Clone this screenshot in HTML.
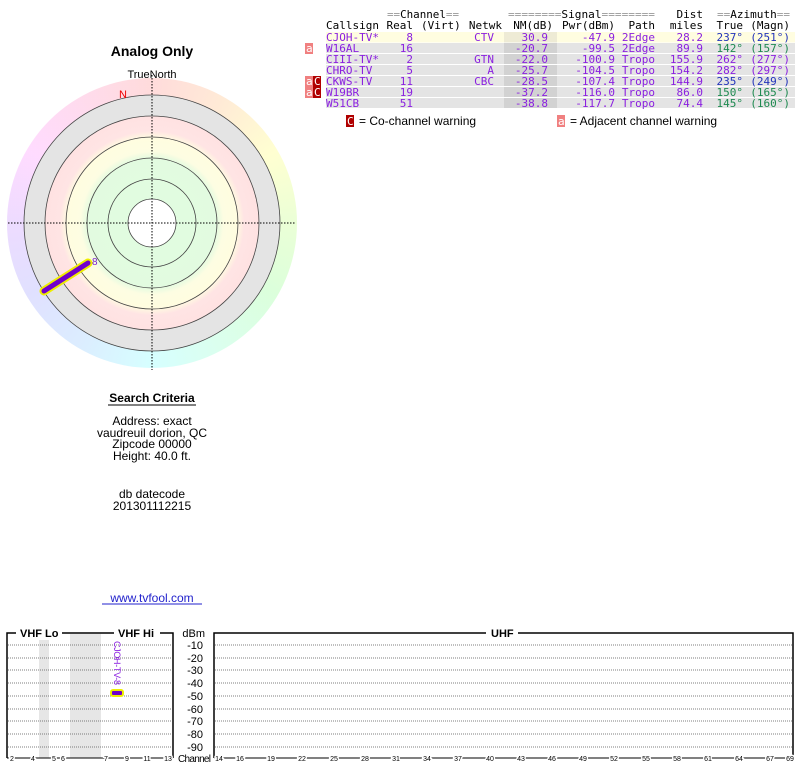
<!DOCTYPE html>
<html><head><meta charset="utf-8"><style>
body{margin:0;background:#fff;width:800px;height:768px;overflow:hidden;position:relative;font-family:"Liberation Sans",sans-serif}
#wheel{position:absolute;left:7px;top:78px;width:290px;height:290px;border-radius:50%;
background:conic-gradient(hsl(0,100%,93%),hsl(30,100%,92%),hsl(60,100%,91%),hsl(90,100%,92%),hsl(120,100%,93%),hsl(150,100%,93%),hsl(180,100%,92%),hsl(210,100%,93%),hsl(240,100%,94%),hsl(270,100%,93%),hsl(300,100%,93%),hsl(330,100%,93%),hsl(360,100%,93%))}
svg{position:absolute;left:0;top:0}
.m{font-family:"DejaVu Sans Mono","Liberation Mono",monospace;font-size:11px}
</style></head><body>
<div id="wheel"></div>
<svg width="800" height="768" xmlns="http://www.w3.org/2000/svg">
<defs><radialGradient id="rg" cx="152" cy="223" r="128" gradientUnits="userSpaceOnUse">
<stop offset="0" stop-color="#e0fde0"/><stop offset="0.5" stop-color="#e2fbe0"/>
<stop offset="0.56" stop-color="#fdfde2"/><stop offset="0.66" stop-color="#fffde0"/>
<stop offset="0.72" stop-color="#ffe4e4"/><stop offset="0.835" stop-color="#ffe2e2"/>
<stop offset="0.836" stop-color="#e4e4e4"/><stop offset="1" stop-color="#e4e4e4"/></radialGradient></defs>
<text x="152" y="56" text-anchor="middle" font-size="14" font-weight="bold">Analog Only</text>
<text x="152" y="78" text-anchor="middle" font-size="11">TrueNorth</text>
<circle cx="152" cy="223" r="128" fill="url(#rg)" stroke="#444" stroke-width="0.8"/>
<g fill="none" stroke="#444" stroke-width="0.8">
<circle cx="152" cy="223" r="107"/><circle cx="152" cy="223" r="86"/><circle cx="152" cy="223" r="65"/><circle cx="152" cy="223" r="44"/></g>
<circle cx="152" cy="223" r="24" fill="#fff" stroke="#444" stroke-width="0.8"/>
<g stroke="#000" stroke-width="1" stroke-dasharray="1.5,1.5"><line x1="152" y1="75" x2="152" y2="370"/><line x1="8" y1="223" x2="296" y2="223"/></g>
<text x="119" y="98" fill="#e00" font-size="11">N</text>
<line x1="44" y1="291" x2="88" y2="263" stroke="#ee0" stroke-width="9" stroke-linecap="round"/>
<line x1="44" y1="291" x2="88" y2="263" stroke="#7000cc" stroke-width="5" stroke-linecap="round"/>
<text x="92" y="265" fill="#7a1fd0" font-size="10">8</text>

<text x="152" y="402" text-anchor="middle" font-size="12" font-weight="bold">Search Criteria</text>
<line x1="108" y1="405" x2="196" y2="405" stroke="#000"/>
<g font-size="12" text-anchor="middle"><text x="152" y="425">Address: exact</text><text x="152" y="437">vaudreuil dorion, QC</text><text x="152" y="448">Zipcode 00000</text><text x="152" y="460">Height: 40.0 ft.</text>
<text x="152" y="498">db datecode</text><text x="152" y="510">201301112215</text>
<text x="152" y="602" fill="#22c">www.tvfool.com</text></g>
<line x1="102" y1="604" x2="202" y2="604" stroke="#22c"/>

<!-- table -->
<rect x="326" y="32" width="469" height="10.5" fill="#fffde0"/>
<g fill="#e4e4e4"><rect x="326" y="43" width="469" height="10"/><rect x="326" y="54" width="469" height="10"/><rect x="326" y="65" width="469" height="10"/><rect x="326" y="76" width="469" height="10"/><rect x="326" y="87" width="469" height="10"/><rect x="326" y="98" width="469" height="10"/></g>
<rect x="504" y="32" width="53" height="10.5" fill="#eeebd5"/>
<g fill="#d2d2d2"><rect x="504" y="43" width="53" height="10"/><rect x="504" y="54" width="53" height="10"/><rect x="504" y="65" width="53" height="10"/><rect x="504" y="76" width="53" height="10"/><rect x="504" y="87" width="53" height="10"/><rect x="504" y="98" width="53" height="10"/></g>
<g class="m">
<text x="387" y="18" textLength="72" lengthAdjust="spacingAndGlyphs"><tspan fill="#999">==</tspan>Channel<tspan fill="#999">==</tspan></text>
<text x="508" y="18" textLength="147" lengthAdjust="spacingAndGlyphs"><tspan fill="#999">========</tspan>Signal<tspan fill="#999">========</tspan></text>
<text x="703" y="18" text-anchor="end">Dist</text>
<text x="717" y="18" textLength="73" lengthAdjust="spacingAndGlyphs"><tspan fill="#999">==</tspan>Azimuth<tspan fill="#999">==</tspan></text>
<text x="326" y="29">Callsign</text><text x="413" y="29" text-anchor="end">Real</text><text x="421" y="29">(Virt)</text><text x="502" y="29" text-anchor="end">Netwk</text><text x="553" y="29" text-anchor="end">NM(dB)</text><text x="615" y="29" text-anchor="end">Pwr(dBm)</text><text x="655" y="29" text-anchor="end">Path</text><text x="703" y="29" text-anchor="end">miles</text><text x="743" y="29" text-anchor="end">True</text><text x="790" y="29" text-anchor="end">(Magn)</text>
</g>
<g class="m" fill="#8a1fe0">
<text x="326" y="41">CJOH-TV*</text><text x="413" y="41" text-anchor="end">8</text><text x="494" y="41" text-anchor="end">CTV</text><text x="548" y="41" text-anchor="end">30.9</text><text x="615" y="41" text-anchor="end">-47.9</text><text x="655" y="41" text-anchor="end">2Edge</text><text x="703" y="41" text-anchor="end">28.2</text>
<text x="326" y="52">W16AL</text><text x="413" y="52" text-anchor="end">16</text><text x="548" y="52" text-anchor="end">-20.7</text><text x="615" y="52" text-anchor="end">-99.5</text><text x="655" y="52" text-anchor="end">2Edge</text><text x="703" y="52" text-anchor="end">89.9</text>
<text x="326" y="63">CIII-TV*</text><text x="413" y="63" text-anchor="end">2</text><text x="494" y="63" text-anchor="end">GTN</text><text x="548" y="63" text-anchor="end">-22.0</text><text x="615" y="63" text-anchor="end">-100.9</text><text x="655" y="63" text-anchor="end">Tropo</text><text x="703" y="63" text-anchor="end">155.9</text>
<text x="326" y="74">CHRO-TV</text><text x="413" y="74" text-anchor="end">5</text><text x="494" y="74" text-anchor="end">A</text><text x="548" y="74" text-anchor="end">-25.7</text><text x="615" y="74" text-anchor="end">-104.5</text><text x="655" y="74" text-anchor="end">Tropo</text><text x="703" y="74" text-anchor="end">154.2</text>
<text x="326" y="85">CKWS-TV</text><text x="413" y="85" text-anchor="end">11</text><text x="494" y="85" text-anchor="end">CBC</text><text x="548" y="85" text-anchor="end">-28.5</text><text x="615" y="85" text-anchor="end">-107.4</text><text x="655" y="85" text-anchor="end">Tropo</text><text x="703" y="85" text-anchor="end">144.9</text>
<text x="326" y="96">W19BR</text><text x="413" y="96" text-anchor="end">19</text><text x="548" y="96" text-anchor="end">-37.2</text><text x="615" y="96" text-anchor="end">-116.0</text><text x="655" y="96" text-anchor="end">Tropo</text><text x="703" y="96" text-anchor="end">86.0</text>
<text x="326" y="107">W51CB</text><text x="413" y="107" text-anchor="end">51</text><text x="548" y="107" text-anchor="end">-38.8</text><text x="615" y="107" text-anchor="end">-117.7</text><text x="655" y="107" text-anchor="end">Tropo</text><text x="703" y="107" text-anchor="end">74.4</text>
</g>
<g class="m" text-anchor="end">
<text x="743" y="41" fill="#2233bb">237°</text><text x="790" y="41" fill="#2233bb">(251°)</text>
<text x="743" y="52" fill="#1e8a50">142°</text><text x="790" y="52" fill="#1e8a50">(157°)</text>
<text x="743" y="63" fill="#8a1fe0">262°</text><text x="790" y="63" fill="#8a1fe0">(277°)</text>
<text x="743" y="74" fill="#8a1fe0">282°</text><text x="790" y="74" fill="#8a1fe0">(297°)</text>
<text x="743" y="85" fill="#2233bb">235°</text><text x="790" y="85" fill="#2233bb">(249°)</text>
<text x="743" y="96" fill="#1e8a50">150°</text><text x="790" y="96" fill="#1e8a50">(165°)</text>
<text x="743" y="107" fill="#1e8a50">145°</text><text x="790" y="107" fill="#1e8a50">(160°)</text>
</g>
<!-- warnings -->
<g fill="#f08080"><rect x="305" y="43" width="8" height="11"/><rect x="305" y="76" width="8" height="11"/><rect x="305" y="87" width="8" height="11"/><rect x="557" y="115" width="8" height="12"/></g>
<g fill="#b00000"><rect x="313" y="76" width="8" height="11"/><rect x="313" y="87" width="8" height="11"/><rect x="346" y="115" width="8" height="12"/></g>
<g class="m" fill="#fff"><text x="306" y="52">a</text><text x="306" y="85">a</text><text x="306" y="96">a</text><text x="314" y="85">C</text><text x="314" y="96">C</text><text x="347" y="125">C</text><text x="558" y="125">a</text></g>
<g font-size="12"><text x="359" y="125">= Co-channel warning</text><text x="570" y="125">= Adjacent channel warning</text></g>

<!-- bar chart -->
<g fill="#e6e6e6"><rect x="39" y="634" width="10" height="124"/><rect x="70" y="634" width="31" height="124"/></g>
<g stroke="#555" stroke-width="0.7" stroke-dasharray="1,1">
<path d="M8 645H172M8 658H172M8 670H172M8 683H172M8 696H172M8 709H172M8 721H172M8 734H172M8 747H172"/>
<path d="M215 645H792M215 658H792M215 670H792M215 683H792M215 696H792M215 709H792M215 721H792M215 734H792M215 747H792"/>
</g>
<g fill="none" stroke="#000" stroke-width="1.5">
<path d="M7 758V633H173V758"/><path d="M214 758V633H793V758"/></g>
<line x1="7" y1="758" x2="173" y2="758" stroke="#000"/>
<line x1="214" y1="758" x2="793" y2="758" stroke="#000"/>
<g fill="#fff"><rect x="16" y="626" width="46" height="14"/><rect x="114" y="626" width="46" height="14"/><rect x="486" y="626" width="32" height="14"/></g>
<g font-size="11" font-weight="bold"><text x="20" y="637">VHF Lo</text><text x="118" y="637">VHF Hi</text><text x="491" y="637">UHF</text></g>
<g font-size="11" text-anchor="end"><text x="205" y="637">dBm</text><text x="203" y="649">-10</text><text x="203" y="662">-20</text><text x="203" y="674">-30</text><text x="203" y="687">-40</text><text x="203" y="700">-50</text><text x="203" y="713">-60</text><text x="203" y="725">-70</text><text x="203" y="738">-80</text><text x="203" y="751">-90</text></g>
<text x="178" y="762" font-size="10" textLength="33">Channel</text>
<g font-size="7" text-anchor="middle" style="paint-order:stroke" stroke="#fff" stroke-width="3">
<text x="12" y="761">2</text><text x="33" y="761">4</text><text x="54" y="761">5</text><text x="63" y="761">6</text><text x="106" y="761">7</text><text x="127" y="761">9</text><text x="147" y="761">11</text><text x="168" y="761">13</text>
<text x="219" y="761">14</text><text x="240" y="761">16</text><text x="271" y="761">19</text><text x="302" y="761">22</text><text x="334" y="761">25</text><text x="365" y="761">28</text><text x="396" y="761">31</text><text x="427" y="761">34</text><text x="458" y="761">37</text><text x="490" y="761">40</text><text x="521" y="761">43</text><text x="552" y="761">46</text><text x="583" y="761">49</text><text x="614" y="761">52</text><text x="646" y="761">55</text><text x="677" y="761">58</text><text x="708" y="761">61</text><text x="739" y="761">64</text><text x="770" y="761">67</text><text x="790" y="761">69</text></g>
<rect x="111" y="690" width="12" height="6" rx="2" fill="#7000cc" stroke="#ee0" stroke-width="2"/>
<text transform="translate(114,641) rotate(90)" font-size="9" fill="#8a1fe0" textLength="44">CJOH-TV-8</text>
</svg>
</body></html>
